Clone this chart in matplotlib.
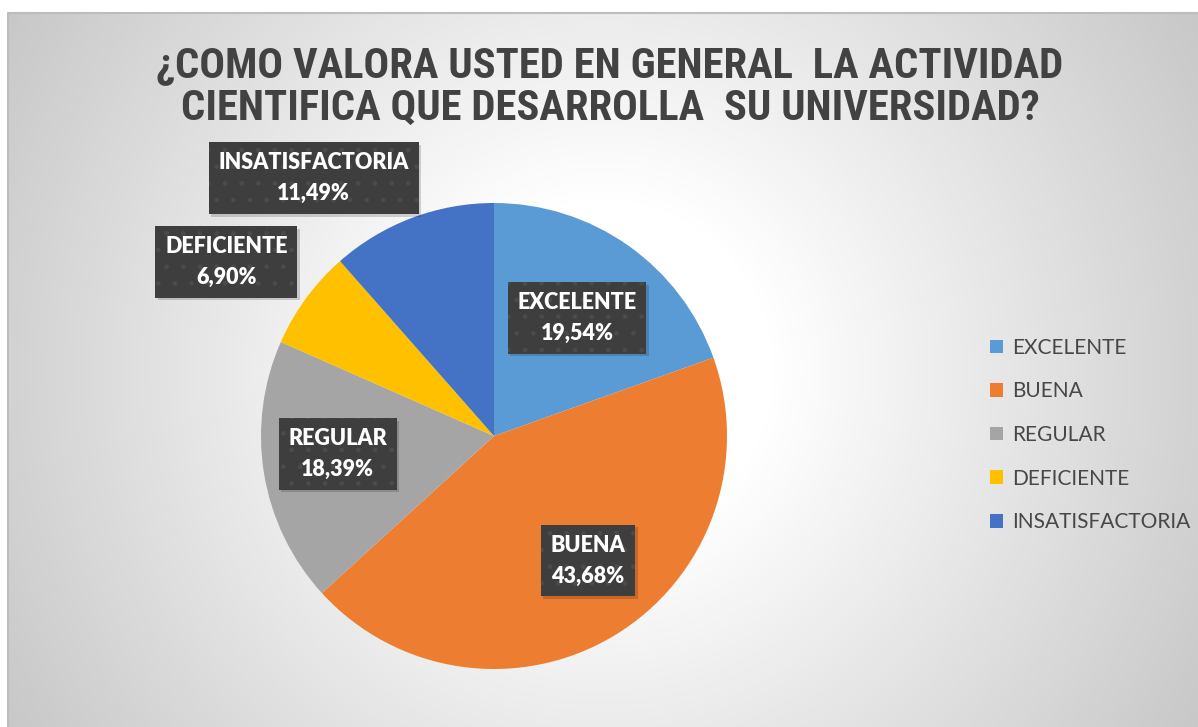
import numpy as np
import matplotlib
matplotlib.use("Agg")
import matplotlib.pyplot as plt
from matplotlib import font_manager as fm
from matplotlib.patches import Rectangle
from matplotlib.transforms import IdentityTransform

categories = ["EXCELENTE", "BUENA", "REGULAR", "DEFICIENTE", "INSATISFACTORIA"]
percentages = [19.54, 43.68, 18.39, 6.90, 11.49]
pct_labels = ["19,54%", "43,68%", "18,39%", "6,90%", "11,49%"]
title_text = "¿COMO VALORA USTED EN GENERAL  LA ACTIVIDAD\nCIENTIFICA QUE DESARROLLA  SU UNIVERSIDAD?"

colors = ["#5B9BD5", "#ED7D31", "#A5A5A5", "#FFC000", "#4472C4"]
# label placement (radius fraction, angle nudge in degrees) relative to slice mid-angle
label_r = [0.62, 0.67, 0.675, 1.37, 1.35]
label_da = [0.0, 6.0, -2.7, 3.2, 14.3]

W, H = 1198, 727
fig = plt.figure(figsize=(W / 100, H / 100), dpi=100)
fig.patch.set_facecolor("white")

# pick a narrow bold font for the title if one is installed
title_fp = None
for f in fm.fontManager.ttflist:
    nm = (f.name + " " + f.fname).lower()
    if ("narrow" in nm or "condensed" in nm) and f.weight in (700, "bold") \
            and "italic" not in nm and "oblique" not in nm:
        title_fp = fm.FontProperties(fname=f.fname)
        if "liberation" in nm:
            break
if title_fp is None:
    title_fp = fm.FontProperties(family="Liberation Sans", weight="bold")

# background chart area with radial gradient
x0, y0 = 8, 13
bg = fig.add_axes([x0 / W, 0, 1 - x0 / W, 1 - y0 / H])
bg.set_axis_off()
xx, yy = np.meshgrid(np.arange(x0, W), np.arange(y0, H))
cx, cy = 603, 370
r = np.hypot(xx - cx, yy - cy)
v = 1 - 0.22 * np.clip((r - 170) / 530, 0, 1)
img = np.dstack([v, v, v])
bg.imshow(img, extent=[0, 1, 0, 1], aspect="auto", origin="upper", interpolation="bilinear")
bg.set_xlim(0, 1)
bg.set_ylim(0, 1)
bg.plot([0, 0, 1], [0, 1, 1], color="#BDBDBD", lw=1.5, transform=bg.transAxes, clip_on=False)

# pie axes
pcx, pcy, R = 494, 436, 233
ax = fig.add_axes([(pcx - R) / W, (H - pcy - R) / H, 2 * R / W, 2 * R / H])
ax.set_axis_off()
wedges, _ = ax.pie(percentages, colors=colors, startangle=90, counterclock=False,
                   radius=1, wedgeprops=dict(linewidth=0))
ax.set_xlim(-1, 1)
ax.set_ylim(-1, 1)

label_font = ["Lato", "DejaVu Sans"]
label_texts = []
for i, w in enumerate(wedges):
    mid = np.deg2rad((w.theta1 + w.theta2) / 2 + label_da[i])
    lx = label_r[i] * np.cos(mid)
    ly = label_r[i] * np.sin(mid)
    t = ax.text(lx, ly, f"{categories[i]}\n{pct_labels[i]}", ha="center", va="center",
                fontsize=15.5, fontweight="heavy", color="white", family=label_font,
                linespacing=1.6, zorder=5, clip_on=False,
                bbox=dict(boxstyle="square,pad=0.45", facecolor="#3E3E3E",
                          edgecolor="#4B4B4B", hatch=".", linewidth=0))
    label_texts.append(t)

# title, auto-fitted to the reference width
title = fig.text(610 / W, 1 - 87 / H, title_text, ha="center", va="center",
                 fontproperties=title_fp, fontsize=31, color="#424242", linespacing=1.03)
fig.canvas.draw()
rend = fig.canvas.get_renderer()
bb = title.get_window_extent(rend)
target_w = 905
size = 31 * target_w / bb.width
title.set_fontsize(min(size, 31))

# soft drop shadows under the label boxes
for t in label_texts:
    ext = t.get_bbox_patch().get_window_extent(rend)
    shadow = Rectangle((ext.x0 + 2.5, ext.y0 - 2.5), ext.width, ext.height,
                       transform=IdentityTransform(), facecolor=(0, 0, 0, 0.16),
                       linewidth=0, zorder=4, clip_on=False)
    ax.add_artist(shadow)

# legend
leg = fig.legend(wedges, categories, loc="center left",
                 bbox_to_anchor=(990 / W, 1 - 435 / H), frameon=False,
                 prop=dict(family=["Lato", "DejaVu Sans"], size=15),
                 handlelength=0.62, handleheight=0.62, handletextpad=0.45,
                 labelspacing=1.13, borderpad=0, borderaxespad=0)
for t in leg.get_texts():
    t.set_color("#474747")

fig.savefig("out.png", dpi=100)
